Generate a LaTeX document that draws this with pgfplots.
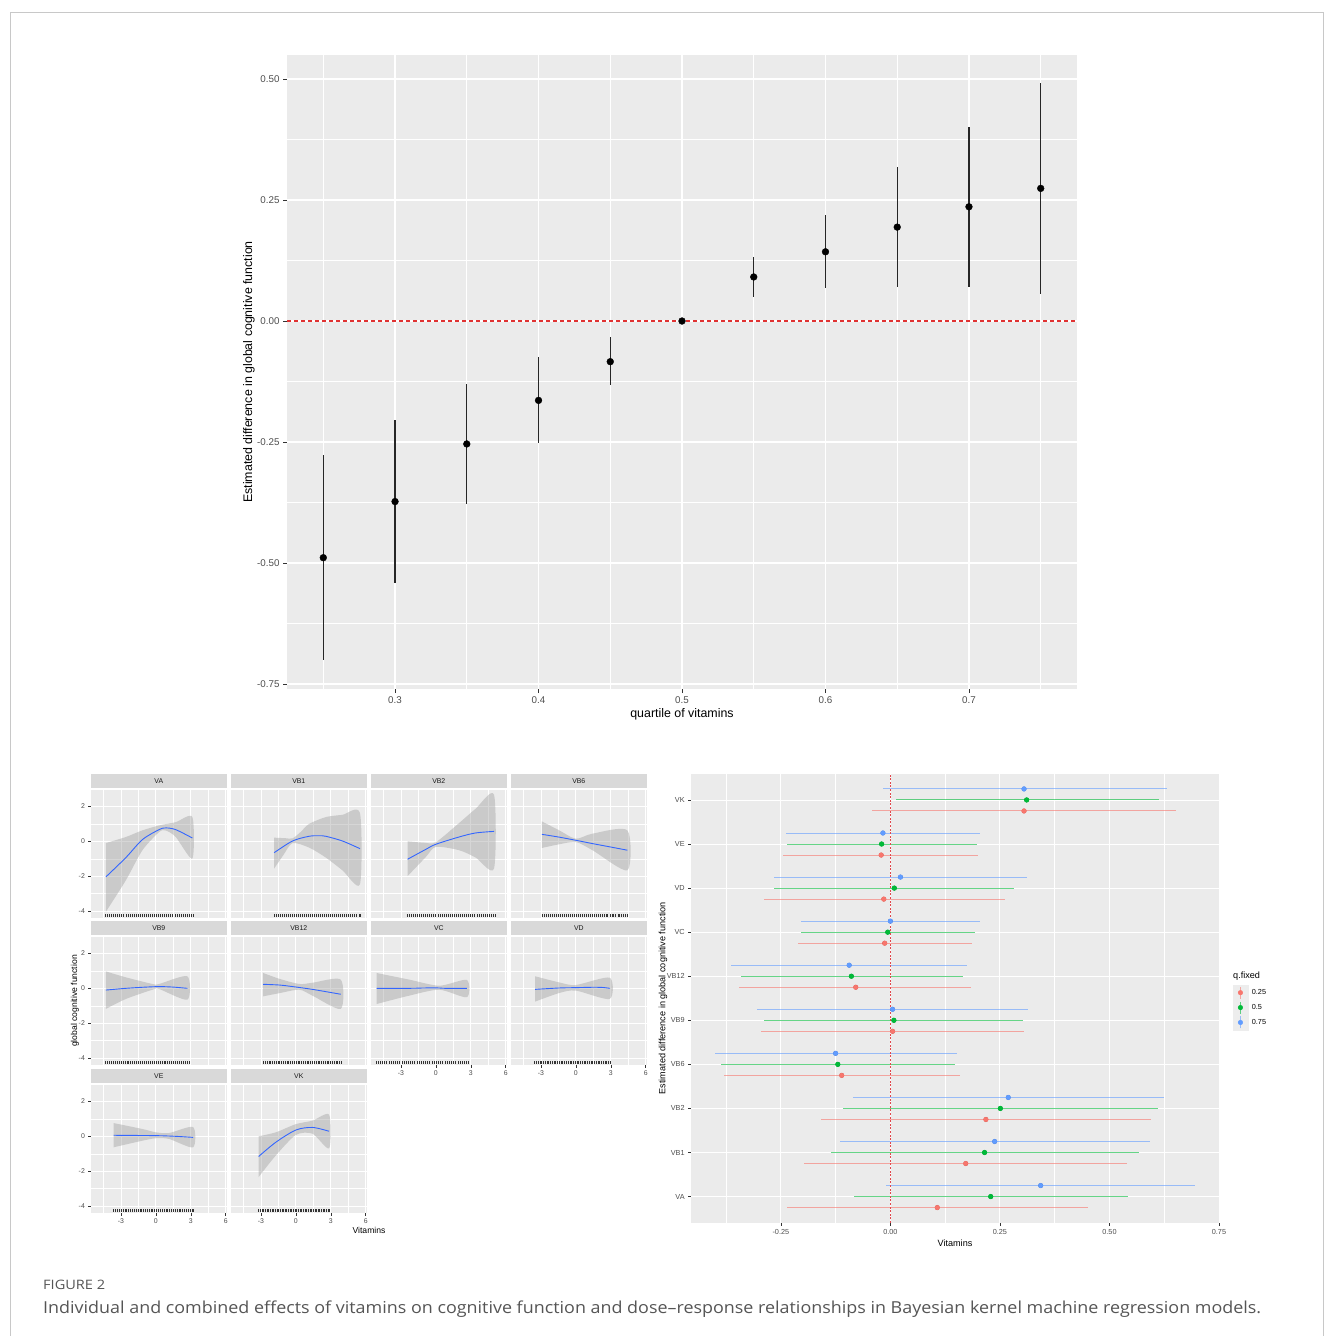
\documentclass[border=0pt]{standalone}
\usepackage{graphicx}
\usepackage{fontspec}
\setmainfont{Liberation Sans}
\newfontfamily\capfont{Open Sans}
\usepackage{pgfplots}
\pgfplotsset{compat=1.18}
\usepackage{pgfplotstable}

\definecolor{ggbg}{HTML}{EBEBEB}
\definecolor{ggstrip}{HTML}{D9D9D9}
\definecolor{gglab}{HTML}{4D4D4D}
\definecolor{ggtick}{HTML}{333333}
\definecolor{ggband}{HTML}{999999}
\definecolor{ggblue}{HTML}{3366FF}
\definecolor{ggkey}{HTML}{EDEDED}
\definecolor{cR}{HTML}{F8766D}
\definecolor{cG}{HTML}{00BA38}
\definecolor{cB}{HTML}{619CFF}
\definecolor{vred}{HTML}{E0474C}
\definecolor{hred}{HTML}{E03232}
\definecolor{framegray}{HTML}{C8C8C8}
\definecolor{captext}{HTML}{555555}

\pgfplotsset{
  gg/.style={scale only axis, axis background/.style={fill=ggbg},
    axis line style={draw=none}, grid=both, tick align=outside, tick pos=left,
    minor tick length=0pt, tick style={color=ggtick},
    ticklabel style={text=gglab}},
  facet/.style={gg, width=135.6pt, height=129.5pt,
    xmin=-5.57, xmax=6.08, ymin=-4.4, ymax=3.03,
    xtick={-3,0,3,6}, minor xtick={-4.5,-1.5,1.5,4.5},
    ytick={-4,-2,0,2}, minor ytick={-3,-1,1,3},
    major grid style={white, line width=0.8pt},
    minor grid style={white, line width=0.4pt},
    xticklabels={}, yticklabels={},
    xtick style={draw=none}, ytick style={draw=none},
    major tick length=2.6pt,
    ticklabel style={font=\fontsize{6.9}{7}\selectfont},
    every axis title/.style={at={(0.5,1)}, anchor=south, fill=ggstrip,
      minimum width=135.6pt, minimum height=14pt, inner sep=0pt,
      font=\fontsize{6.9}{7}\selectfont, text=black!90}},
  xl/.style={xticklabels={-3,0,3,6}, xtick style={draw=ggtick, line width=0.5pt}},
  yl/.style={yticklabels={-4,-2,0,2}, ytick style={draw=ggtick, line width=0.5pt}},
}

% top chart: estimate with 95% interval by quantile
\pgfplotstableread{
q est lo hi
0.25 -0.489 -0.700 -0.277
0.30 -0.373 -0.541 -0.205
0.35 -0.254 -0.378 -0.130
0.40 -0.164 -0.251 -0.075
0.45 -0.084 -0.133 -0.034
0.50 0.000 0.000 0.000
0.55 0.091 0.050 0.132
0.60 0.143 0.068 0.219
0.65 0.194 0.070 0.318
0.70 0.236 0.071 0.400
0.75 0.274 0.055 0.491
}\topdata

% single-exposure effects: q.fixed = 0.25 (y = index - 0.25)
\pgfplotstableread{
y est lo hi
0.75 0.107 -0.236 0.450
1.75 0.172 -0.196 0.541
2.75 0.218 -0.159 0.595
3.75 -0.111 -0.380 0.158
4.75 0.005 -0.296 0.305
5.75 -0.079 -0.345 0.184
6.75 -0.013 -0.210 0.187
7.75 -0.015 -0.289 0.262
8.75 -0.021 -0.244 0.201
9.75 0.305 -0.041 0.652
}\fR
% q.fixed = 0.5
\pgfplotstableread{
y est lo hi
1 0.229 -0.084 0.543
2 0.215 -0.135 0.567
3 0.251 -0.108 0.611
4 -0.120 -0.387 0.148
5 0.008 -0.289 0.303
6 -0.089 -0.342 0.165
7 -0.006 -0.205 0.194
8 0.009 -0.265 0.282
9 -0.020 -0.237 0.198
10 0.311 0.012 0.612
}\fG
% q.fixed = 0.75
\pgfplotstableread{
y est lo hi
1.25 0.343 -0.009 0.696
2.25 0.238 -0.116 0.592
3.25 0.269 -0.085 0.625
4.25 -0.125 -0.400 0.151
5.25 0.005 -0.304 0.313
6.25 -0.094 -0.363 0.175
7.25 0.000 -0.203 0.204
8.25 0.023 -0.266 0.312
9.25 -0.017 -0.238 0.204
10.25 0.305 -0.017 0.631
}\fB

% rug positions (normalised over each exposure's range), rug height
\pgfplotstableread{
u v
0 -4.27
0.024 -4.27
0.046 -4.27
0.07 -4.27
0.093 -4.27
0.116 -4.27
0.14 -4.27
0.163 -4.27
0.186 -4.27
0.209 -4.27
0.233 -4.27
0.256 -4.27
0.279 -4.27
0.302 -4.27
0.326 -4.27
0.349 -4.27
0.372 -4.27
0.395 -4.27
0.419 -4.27
0.442 -4.27
0.465 -4.27
0.488 -4.27
0.512 -4.27
0.535 -4.27
0.558 -4.27
0.581 -4.27
0.605 -4.27
0.628 -4.27
0.651 -4.27
0.674 -4.27
0.698 -4.27
0.721 -4.27
0.744 -4.27
0.767 -4.27
0.791 -4.27
0.814 -4.27
0.837 -4.27
0.86 -4.27
0.884 -4.27
0.907 -4.27
0.93 -4.27
0.953 -4.27
0.977 -4.27
1 -4.27
}\rugtab

% #1 x, #2 y, #3 title, #4 options, #5 fitted curve, #6 band (upper L->R, lower R->L), #7 rug start, #8 rug span
\newcommand{\panel}[8]{%
\begin{axis}[facet, at={(#1pt,#2pt)}, anchor=south west, title={#3}, #4]
\addplot[fill=ggband, fill opacity=0.4, draw=none, smooth, tension=0.45] coordinates {#6} -- cycle;
\addplot[ggblue, line width=0.9pt, smooth] coordinates {#5};
\addplot[only marks, mark=|, mark size=1.6pt, mark options={ggtick, line width=0.35pt}]
  table[x expr={#7+#8*\thisrow{u}}, y=v] {\rugtab};
\end{axis}}

\begin{document}
\begin{tikzpicture}
\path[use as bounding box] (0,0) rectangle (1333pt,-1336pt);
\draw[framegray, line width=0.8pt] (10pt,-1340pt) -- (10pt,-12pt) -- (1323pt,-12pt) -- (1323pt,-1340pt);

% ---------------- top chart ----------------
\begin{axis}[gg, clip=false, at={(287pt,-689pt)}, anchor=south west, width=790pt, height=634pt,
  xmin=0.2247, xmax=0.7753, ymin=-0.7603, ymax=0.5496,
  xtick={0.3,0.4,0.5,0.6,0.7}, xticklabels={0.3,0.4,0.5,0.6,0.7},
  minor xtick={0.25,0.35,0.45,0.55,0.65,0.75},
  ytick={-0.75,-0.5,-0.25,0,0.25,0.5}, yticklabels={-0.75,-0.50,-0.25,0.00,0.25,0.50},
  minor ytick={-0.625,-0.375,-0.125,0.125,0.375},
  major grid style={white, line width=1.4pt},
  minor grid style={white, line width=0.7pt},
  major tick length=4pt, tick style={line width=0.9pt},
  ticklabel style={font=\fontsize{9.8}{11}\selectfont},
  xlabel={quartile of vitamins},
  ylabel={Estimated difference in global cognitive function},
  every axis x label/.style={at={(axis description cs:0.5,0)}, anchor=center, yshift=-25pt, font=\fontsize{12.4}{14}\selectfont},
  every axis y label/.style={at={(axis description cs:0,0.5)}, anchor=center, xshift=-38pt, rotate=90, font=\fontsize{12.4}{14}\selectfont},
]
\addplot[color=hred, solid, line width=1.2pt, dash pattern=on 4pt off 3pt, mark=none] coordinates {(0.2247,0) (0.7753,0)};
\addplot[only marks, mark=*, mark size=3.4pt, black,
  error bars/.cd, y dir=both, y explicit, error mark=none,
  error bar style={line width=1.4pt, color=black!85}]
  table[x=q, y=est, y error plus expr=\thisrow{hi}-\thisrow{est}, y error minus expr=\thisrow{est}-\thisrow{lo}] {\topdata};
\end{axis}

% ---------------- facet panels ----------------
\panel{91}{-918}{VA}{yl}
  {(-4.29,-2.04)(-2.57,-0.93)(-1.15,0.10)(0.28,0.67)(0.86,0.77)(1.71,0.67)(3.14,0.19)}
  {(-4.29,-0.10)(-2.57,0.25)(-1.15,0.63)(0.28,0.91)(1.71,1.10)(3.14,1.39)(3.14,-0.99)(1.71,0.25)(0.86,0.62)(0.28,0.53)(-1.15,-0.51)(-2.57,-2.23)(-4.29,-4.04)}
  {-4.34}{7.54}
\panel{231}{-918}{VB1}{}
  {(-1.86,-0.65)(-0.28,0.02)(1.14,0.29)(2.0,0.32)(2.57,0.29)(4.0,0.02)(5.51,-0.42)}
  {(-1.86,0.21)(-0.9,0.18)(-0.28,0.17)(0.43,0.55)(1.14,1.0)(2.57,1.39)(4.0,1.52)(5.51,1.62)(5.51,-2.46)(4.0,-1.66)(2.57,-0.93)(1.14,-0.36)(-0.28,-0.10)(-1.08,-0.80)(-1.86,-1.56)}
  {-1.86}{7.43}
\panel{371}{-918}{VB2}{}
  {(-2.43,-1.03)(-0.86,-0.46)(0,-0.17)(2.0,0.25)(3.42,0.48)(5.0,0.57)}
  {(-2.43,0.0)(-1.0,-0.08)(0,-0.05)(2.0,1.05)(3.42,1.87)(5.0,2.67)(5.0,-1.56)(3.42,-0.93)(2.0,-0.51)(0,-0.32)(-0.86,-0.9)(-2.43,-2.0)}
  {-2.49}{7.59}
\panel{511}{-918}{VB6}{}
  {(-2.91,0.40)(-1.43,0.24)(0,0.06)(1.43,-0.13)(2.86,-0.31)(4.43,-0.51)}
  {(-2.91,1.14)(-1.43,0.63)(0,0.15)(1.43,0.44)(4.43,0.63)(4.43,-1.66)(1.43,-0.51)(0,-0.04)(-1.43,-0.17)(-2.91,-0.38)}
  {-2.91}{7.36}
\panel{91}{-1065}{VB9}{yl}
  {(-4.29,-0.10)(-2.57,0.0)(-1.15,0.06)(0.28,0.10)(1.5,0.07)(2.71,0.0)}
  {(-4.29,0.97)(-2.57,0.63)(-0.29,0.25)(0.28,0.25)(2.71,0.69)(2.71,-0.65)(0.28,-0.04)(-0.29,-0.08)(-2.57,-0.61)(-4.29,-1.18)}
  {-4.34}{7.19}
\panel{231}{-1065}{VB12}{}
  {(-2.8,0.23)(-1.43,0.19)(-0.28,0.10)(1.43,-0.06)(3.86,-0.34)}
  {(-2.8,0.88)(-1.43,0.55)(0.3,0.25)(1.43,0.32)(3.86,0.50)(3.86,-1.18)(1.43,-0.42)(0.3,-0.08)(-1.43,-0.28)(-2.8,-0.46)}
  {-2.8}{6.7}
\panel{371}{-1065}{VC}{xl}
  {(-5.09,0.0)(-2.29,0.0)(-1.0,0.02)(0,0.03)(0.8,0.0)(2.66,0.0)}
  {(-5.09,0.88)(-2.29,0.50)(0.3,0.15)(2.66,0.48)(2.66,-0.51)(0.3,-0.08)(-2.29,-0.42)(-5.09,-0.90)}
  {-5.15}{7.95}
\panel{511}{-1065}{VD}{xl}
  {(-3.49,-0.06)(-1.43,0.02)(0,0.04)(1.43,0.06)(2.3,0.05)(2.91,0.0)}
  {(-3.49,0.69)(-1.43,0.34)(0,0.19)(2.91,0.61)(2.91,-0.61)(0,-0.13)(-1.43,-0.27)(-3.49,-0.76)}
  {-3.55}{6.5}
\panel{91}{-1213}{VE}{xl,yl}
  {(-3.63,0.06)(0,0.04)(1.71,0.0)(3.2,-0.06)}
  {(-3.63,0.76)(-1.15,0.42)(0,0.23)(1.14,0.19)(3.2,0.53)(3.2,-0.63)(1.14,-0.15)(0,-0.11)(-1.15,-0.25)(-3.63,-0.63)}
  {-3.63}{6.88}
\panel{231}{-1213}{VK}{xl}
  {(-3.2,-1.16)(-1.72,-0.34)(0,0.36)(1.43,0.51)(2.86,0.29)}
  {(-3.2,0.0)(-1.72,0.23)(0,0.70)(1.43,0.90)(2.86,1.24)(2.86,-0.69)(1.43,0.15)(0,0.08)(-1.72,-1.10)(-3.2,-2.34)}
  {-3.2}{6.1}

\node[rotate=90, font=\fontsize{8.6}{9}\selectfont] at (75pt,-1001pt) {global cognitive function};
\node[font=\fontsize{8.6}{9}\selectfont] at (369pt,-1230pt) {Vitamins};

% ---------------- forest plot ----------------
\begin{axis}[gg, clip=false, at={(691pt,-1223pt)}, anchor=south west, width=528pt, height=449.5pt,
  xmin=-0.455, xmax=0.75, ymin=0.4, ymax=10.6,
  xtick={-0.25,0,0.25,0.5,0.75}, xticklabels={-0.25,0.00,0.25,0.50,0.75},
  minor xtick={-0.375,-0.125,0.125,0.375,0.625},
  ytick={1,2,3,4,5,6,7,8,9,10}, yticklabels={VA,VB1,VB2,VB6,VB9,VB12,VC,VD,VE,VK},
  major grid style={white, line width=0.9pt},
  minor grid style={white, line width=0.45pt},
  major tick length=2.8pt, tick style={line width=0.5pt},
  ticklabel style={font=\fontsize{7.3}{8}\selectfont},
  xlabel={Vitamins},
  ylabel={Estimated difference in global cognitive function},
  every axis x label/.style={at={(axis description cs:0.5,0)}, anchor=center, yshift=-20pt, font=\fontsize{9.1}{10}\selectfont},
  every axis y label/.style={at={(axis description cs:0,0.5)}, anchor=center, xshift=-28pt, rotate=90, font=\fontsize{9.1}{10}\selectfont},
  legend style={at={(1.0265,0.529)}, anchor=north west, draw=none, fill=none,
    inner sep=0pt, outer sep=0pt, row sep=0pt, column sep=4pt,
    font=\fontsize{7.3}{8}\selectfont, nodes={inner sep=0pt}},
  legend cell align=left,
]
\addlegendimage{legend image code/.code={
  \fill[ggkey] (0pt,-7.25pt) rectangle (14.5pt,7.25pt);
  \draw[cR, line width=1pt, opacity=0.6] (7.25pt,-6pt) -- (7.25pt,6pt);
  \fill[cR] (7.25pt,0pt) circle (2.3pt);}}
\addlegendentry{0.25}
\addlegendimage{legend image code/.code={
  \fill[ggkey] (0pt,-7.25pt) rectangle (14.5pt,7.25pt);
  \draw[cG, line width=1pt, opacity=0.6] (7.25pt,-6pt) -- (7.25pt,6pt);
  \fill[cG] (7.25pt,0pt) circle (2.3pt);}}
\addlegendentry{0.5}
\addlegendimage{legend image code/.code={
  \fill[ggkey] (0pt,-7.25pt) rectangle (14.5pt,7.25pt);
  \draw[cB, line width=1pt, opacity=0.6] (7.25pt,-6pt) -- (7.25pt,6pt);
  \fill[cB] (7.25pt,0pt) circle (2.3pt);}}
\addlegendentry{0.75}

\addplot[forget plot, only marks, mark=none, error bars/.cd, x dir=both, x explicit, error mark=none,
  error bar style={cR, line width=1pt, opacity=0.6}]
  table[x=est, y=y, x error plus expr=\thisrow{hi}-\thisrow{est}, x error minus expr=\thisrow{est}-\thisrow{lo}] {\fR};
\addplot[forget plot, only marks, mark=none, error bars/.cd, x dir=both, x explicit, error mark=none,
  error bar style={cG, line width=1pt, opacity=0.6}]
  table[x=est, y=y, x error plus expr=\thisrow{hi}-\thisrow{est}, x error minus expr=\thisrow{est}-\thisrow{lo}] {\fG};
\addplot[forget plot, only marks, mark=none, error bars/.cd, x dir=both, x explicit, error mark=none,
  error bar style={cB, line width=1pt, opacity=0.6}]
  table[x=est, y=y, x error plus expr=\thisrow{hi}-\thisrow{est}, x error minus expr=\thisrow{est}-\thisrow{lo}] {\fB};
\addplot[forget plot, draw=vred, line width=1.1pt, dash pattern=on 2pt off 1.6pt] coordinates {(0,0.4) (0,10.6)};
\addplot[forget plot, only marks, mark=*, mark size=2.4pt, cR] table[x=est, y=y] {\fR};
\addplot[forget plot, only marks, mark=*, mark size=2.4pt, cG] table[x=est, y=y] {\fG};
\addplot[forget plot, only marks, mark=*, mark size=2.4pt, cB] table[x=est, y=y] {\fB};
\end{axis}
\node[anchor=west, font=\fontsize{9.1}{10}\selectfont, inner sep=0pt] at (1233pt,-976pt) {q.fixed};

% ---------------- caption ----------------
\node[anchor=base west, inner sep=0pt, text=captext, font=\capfont\fontsize{13}{15}\selectfont] at (43pt,-1289pt) {\resizebox{62pt}{\height}{FIGURE 2}};
\node[anchor=base west, inner sep=0pt, text=captext, font=\capfont\fontsize{16.5}{20}\selectfont] at (43pt,-1313pt) {\resizebox{1218pt}{\height}{Individual and combined effects of vitamins on cognitive function and dose–response relationships in Bayesian kernel machine regression models.}};
\end{tikzpicture}
\end{document}
